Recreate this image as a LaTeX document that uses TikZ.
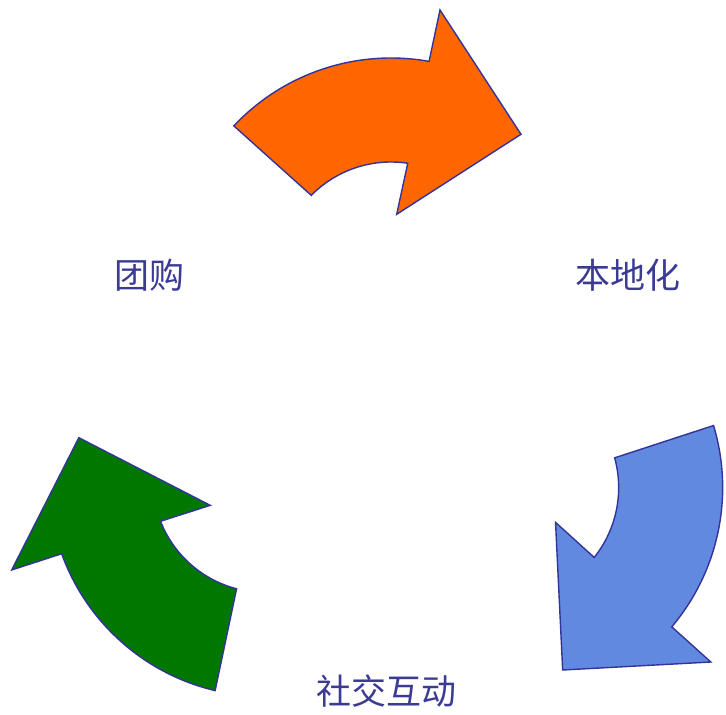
\documentclass[tikz,border=0pt]{standalone}
\usepackage{fontspec}
\newfontfamily\cjk{Noto Sans CJK SC}
\definecolor{arroworange}{HTML}{FF6600}
\definecolor{arrowblue}{HTML}{6189DF}
\definecolor{arrowgreen}{HTML}{007800}
\definecolor{edgeblue}{HTML}{333399}
\definecolor{labelblue}{HTML}{3B3B94}
\tikzset{
  bentarrow/.style={draw=edgeblue, line width=1.4pt, line join=miter},
  label text/.style={text=labelblue, font=\cjk\fontsize{35}{40}\selectfont, inner sep=0pt}
}
\newcommand\mybentarrow[1]{%
  \draw[bentarrow, fill=#1] (391,441) ++(136.7:216)
    arc[start angle=136.7, end angle=79.85, radius=216]
    -- (440,705) -- (521,580.7) -- (396.7,500.7)
    -- ([shift={(391,441)}]81.4:112)
    arc[start angle=81.4, end angle=135.4, radius=112] -- cycle;}
\begin{document}
\begin{tikzpicture}[x=1pt,y=1pt]
\useasboundingbox (0,0) rectangle (726,715);
\mybentarrow{arroworange}
\begin{scope}[shift={(1.5,1.5)}, rotate around={-120:(386,300.5)}]
  \mybentarrow{arrowblue}
\end{scope}
\begin{scope}[shift={(3,0)}, rotate around={120:(386,300.5)}]
  \mybentarrow{arrowgreen}
\end{scope}
\node[label text] (tuangou) at (149,439.5) {团购};
\node[label text] (bendihua) at (628,440) {本地化};
\node[label text] (shejiao) at (386,23.5) {社交互动};
\end{tikzpicture}
\end{document}
